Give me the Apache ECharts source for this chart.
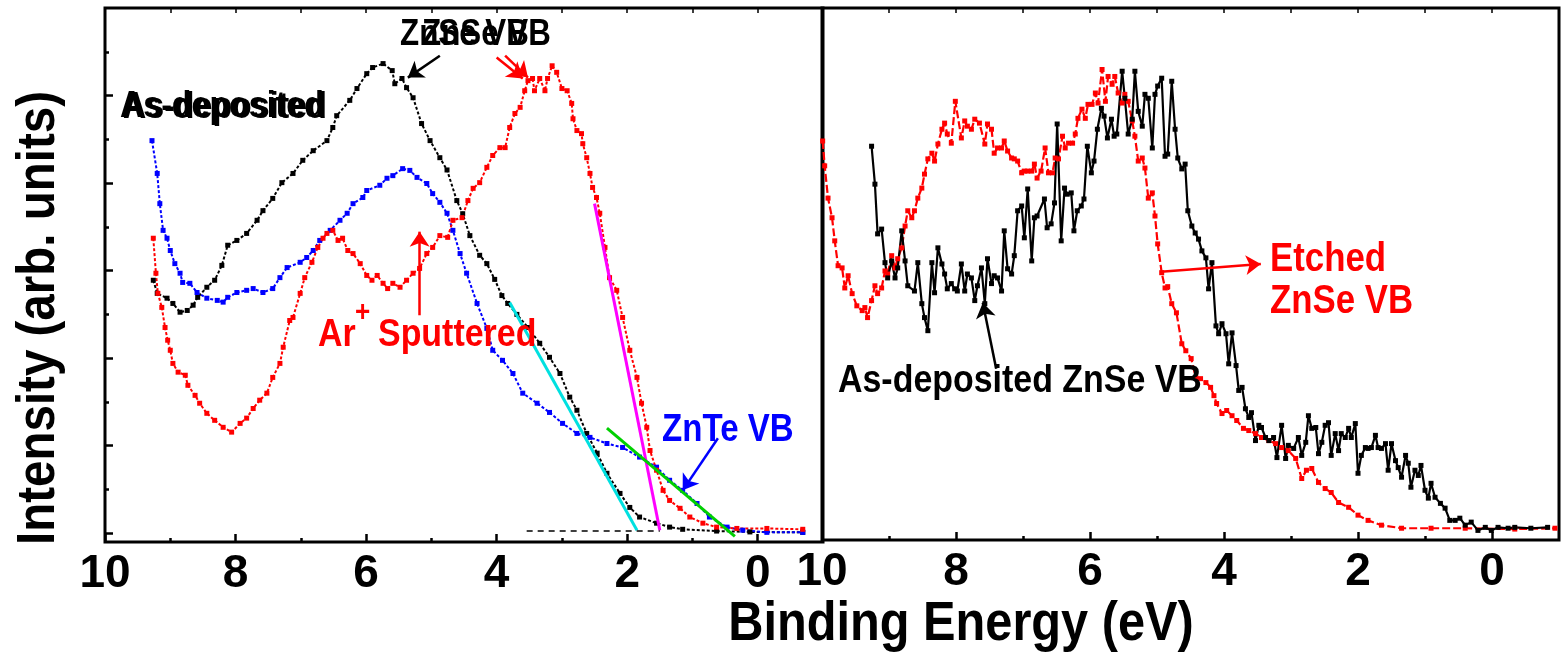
<!DOCTYPE html>
<html><head><meta charset="utf-8">
<script src="https://cdn.jsdelivr.net/npm/echarts@6/dist/echarts.min.js"></script>
<style>html,body{margin:0;padding:0;background:#fff}#c{width:1567px;height:656px}</style>
</head><body><div id="c"></div>
<script>
// ---- tick values ----
const xTicksMajor = [0, 2, 4, 6, 8, 10];
const xTicksMinor = [1, 3, 5, 7, 9];
const xTicksTop = [0, 1, 2, 3, 4, 5, 6, 7, 8, 9, 10];
const yTicksMajor = [0, 2, 4, 6, 8, 10];
const yTicksMinor = [1, 3, 5, 7, 9, 11];

// ---- left panel: [binding energy (eV), intensity (arb.)] ----
const leftAsDeposited = [[9.26,5.78],[9.20,5.48],[9.05,5.37],[8.96,5.25],[8.85,5.05],[8.74,5.09],[8.65,5.21],[8.58,5.39],[8.44,5.62],[8.32,5.78],[8.21,6.12],[8.12,6.58],[7.98,6.69],[7.83,6.85],[7.67,7.15],[7.58,7.37],[7.43,7.65],[7.29,8.01],[7.12,8.22],[6.97,8.52],[6.81,8.74],[6.60,8.97],[6.51,9.27],[6.45,9.54],[6.25,9.89],[6.14,10.16],[5.99,10.50],[5.90,10.64],[5.74,10.73],[5.60,10.57],[5.56,10.27],[5.45,10.39],[5.38,10.18],[5.28,9.95],[5.15,9.36],[5.02,8.97],[4.87,8.58],[4.76,8.30],[4.61,7.60],[4.52,7.30],[4.41,6.80],[4.26,6.35],[4.15,6.16],[4.03,5.80],[3.92,5.43],[3.83,5.25],[3.69,5.00],[3.52,4.70],[3.34,4.34],[3.19,4.02],[3.03,3.65],[2.88,3.11],[2.77,2.81],[2.62,2.28],[2.46,1.83],[2.31,1.37],[2.11,0.91],[1.96,0.59],[1.81,0.37],[1.55,0.23],[1.35,0.14],[1.15,0.09],[0.63,0.05],[0.12,0.03],[-0.69,0.02]];
const leftZnTe = [[9.28,8.97],[9.20,8.22],[9.16,7.53],[9.11,6.92],[9.05,6.74],[9.00,6.46],[8.93,6.16],[8.85,5.94],[8.81,5.73],[8.70,5.71],[8.59,5.50],[8.44,5.37],[8.28,5.32],[8.19,5.28],[8.12,5.39],[7.98,5.50],[7.83,5.55],[7.73,5.59],[7.58,5.50],[7.43,5.59],[7.32,5.84],[7.21,6.07],[7.01,6.19],[6.91,6.30],[6.81,6.46],[6.71,6.69],[6.55,6.92],[6.40,7.15],[6.29,7.31],[6.20,7.53],[6.05,7.67],[5.99,7.83],[5.79,7.95],[5.68,8.11],[5.59,8.17],[5.44,8.33],[5.33,8.29],[5.22,8.13],[5.07,7.99],[4.98,7.76],[4.87,7.56],[4.76,7.31],[4.67,6.92],[4.56,6.39],[4.46,5.94],[4.30,5.25],[4.15,4.68],[4.06,4.18],[3.91,3.95],[3.75,3.65],[3.60,3.20],[3.38,2.97],[3.19,2.76],[2.99,2.51],[2.77,2.28],[2.57,2.19],[2.31,2.05],[2.07,1.96],[1.81,1.74],[1.55,1.51],[1.35,1.21],[1.15,0.98],[0.93,0.68],[0.74,0.37],[0.47,0.14],[0.23,0.07],[-0.14,0.02],[-0.69,0.02]];
const leftSputtered = [[9.26,6.74],[9.22,5.94],[9.19,5.48],[9.13,5.16],[9.08,4.70],[9.04,4.41],[9.00,4.18],[8.96,3.88],[8.88,3.68],[8.77,3.61],[8.73,3.38],[8.62,3.15],[8.55,2.97],[8.44,2.74],[8.32,2.58],[8.19,2.42],[8.06,2.31],[7.93,2.51],[7.83,2.63],[7.73,2.85],[7.63,3.04],[7.52,3.20],[7.43,3.56],[7.32,3.88],[7.27,4.25],[7.17,4.86],[7.12,4.93],[7.01,5.48],[6.94,5.84],[6.83,6.19],[6.74,6.53],[6.66,6.74],[6.60,6.85],[6.51,6.92],[6.43,6.69],[6.36,6.74],[6.28,6.46],[6.20,6.39],[6.09,6.16],[5.99,5.89],[5.91,5.78],[5.83,5.89],[5.74,5.71],[5.67,5.59],[5.59,5.71],[5.48,5.62],[5.38,5.78],[5.28,5.94],[5.18,6.05],[5.07,6.39],[4.98,6.53],[4.87,6.80],[4.75,6.76],[4.67,7.15],[4.53,7.21],[4.44,7.60],[4.36,7.88],[4.26,8.01],[4.15,8.36],[4.06,8.63],[3.95,8.81],[3.87,8.81],[3.80,9.27],[3.72,9.59],[3.64,9.73],[3.57,10.11],[3.52,10.34],[3.45,10.39],[3.42,10.11],[3.34,10.39],[3.26,10.11],[3.22,10.39],[3.15,10.68],[3.08,10.53],[3.00,10.16],[2.92,10.11],[2.85,9.82],[2.83,9.47],[2.77,9.20],[2.70,9.13],[2.68,8.90],[2.62,8.58],[2.57,8.22],[2.53,7.90],[2.47,7.67],[2.42,7.31],[2.34,6.53],[2.27,5.84],[2.16,5.55],[2.07,4.93],[1.96,4.18],[1.85,3.56],[1.78,2.97],[1.70,2.42],[1.65,1.89],[1.55,1.44],[1.45,0.98],[1.35,0.75],[1.19,0.57],[1.04,0.37],[0.84,0.23],[0.63,0.14],[0.32,0.11],[-0.14,0.11],[-0.69,0.09]];
// linear extrapolations of the leading edges
const fitCyan = [[3.80,5.27],[1.85,0.07]];
const fitMagenta = [[2.50,7.53],[1.50,0.07]];
const fitGreen = [[2.31,2.40],[0.35,-0.07]];
const baseline = [[3.54,0.05],[1.50,0.05]];

// ---- right panel ----
const rightEtched = [[9.99,8.95],[9.96,8.38],[9.91,7.64],[9.85,7.19],[9.81,6.66],[9.76,6.09],[9.70,6.04],[9.66,5.58],[9.61,5.86],[9.55,5.45],[9.48,5.17],[9.40,5.06],[9.36,5.13],[9.32,4.90],[9.26,5.29],[9.21,5.63],[9.17,5.45],[9.11,5.58],[9.06,5.97],[9.02,5.90],[8.96,6.32],[8.91,6.04],[8.87,6.25],[8.81,6.50],[8.76,7.00],[8.72,7.35],[8.66,7.19],[8.62,7.35],[8.57,7.64],[8.51,7.87],[8.47,8.19],[8.42,8.54],[8.36,8.67],[8.32,8.49],[8.27,8.88],[8.21,9.22],[8.17,9.36],[8.13,9.11],[8.07,8.90],[8.01,9.86],[7.92,9.02],[7.87,9.41],[7.83,9.29],[7.77,9.22],[7.72,9.45],[7.65,9.36],[7.57,8.88],[7.53,9.34],[7.47,9.22],[7.43,8.67],[7.38,8.79],[7.32,8.79],[7.28,8.95],[7.23,8.72],[7.17,8.56],[7.13,8.54],[7.08,8.49],[7.02,8.22],[6.98,8.26],[6.93,8.26],[6.87,8.26],[6.83,8.42],[6.79,8.10],[6.73,8.26],[6.67,8.79],[6.62,8.22],[6.56,8.22],[6.52,8.56],[6.47,8.54],[6.41,9.06],[6.37,8.79],[6.32,8.90],[6.26,8.90],[6.22,9.11],[6.18,9.47],[6.12,9.68],[6.07,9.47],[6.03,9.79],[5.97,9.79],[5.92,10.05],[5.88,9.82],[5.82,10.59],[5.77,9.86],[5.73,10.43],[5.67,10.25],[5.63,10.43],[5.58,10.05],[5.52,9.82],[5.48,10.02],[5.43,9.86],[5.37,9.41],[5.33,9.06],[5.28,8.49],[5.22,8.56],[5.18,8.33],[5.13,7.64],[5.07,7.76],[5.03,7.23],[4.99,6.59],[4.93,5.93],[4.88,5.58],[4.84,5.61],[4.78,5.22],[4.71,5.01],[4.63,4.30],[4.57,4.14],[4.49,3.96],[4.42,3.52],[4.35,3.50],[4.27,3.41],[4.20,3.30],[4.15,3.11],[4.11,2.93],[4.03,2.70],[3.96,2.77],[3.88,2.65],[3.81,2.54],[3.71,2.36],[3.63,2.31],[3.53,2.24],[3.44,2.15],[3.33,2.08],[3.23,2.01],[3.14,1.92],[3.04,1.85],[2.93,1.67],[2.84,1.21],[2.77,1.40],[2.69,1.44],[2.59,1.12],[2.49,0.98],[2.40,0.89],[2.29,0.66],[2.14,0.55],[2.00,0.37],[1.85,0.25],[1.65,0.14],[1.35,0.07],[0.91,0.07],[0.40,0.07],[-0.34,0.05],[-0.94,0.07]];
const rightAsDeposited = [[9.26,8.83],[9.21,7.96],[9.17,6.82],[9.11,6.93],[9.06,6.16],[9.02,5.81],[8.96,6.20],[8.91,5.81],[8.87,6.04],[8.81,6.89],[8.76,6.20],[8.72,5.63],[8.62,5.51],[8.57,6.16],[8.51,5.22],[8.47,4.90],[8.42,4.60],[8.36,6.16],[8.32,5.47],[8.27,6.50],[8.21,6.13],[8.17,5.90],[8.13,5.56],[8.07,5.68],[8.02,5.56],[7.98,5.51],[7.92,6.13],[7.87,5.51],[7.83,5.90],[7.77,5.81],[7.72,5.29],[7.68,5.63],[7.62,6.04],[7.57,5.22],[7.53,6.25],[7.47,5.68],[7.43,5.86],[7.38,5.81],[7.32,5.51],[7.28,6.89],[7.23,6.02],[7.17,5.90],[7.13,6.32],[7.08,7.35],[7.02,7.46],[6.98,6.73],[6.93,7.85],[6.87,6.20],[6.83,7.19],[6.79,7.23],[6.68,7.62],[6.64,6.96],[6.58,7.05],[6.53,7.53],[6.49,9.34],[6.43,6.66],[6.38,7.87],[6.34,7.73],[6.28,7.76],[6.24,6.89],[6.19,7.35],[6.13,7.46],[6.09,7.62],[6.04,8.83],[5.98,8.22],[5.94,8.49],[5.89,9.22],[5.83,9.70],[5.79,9.52],[5.74,9.02],[5.68,9.45],[5.64,9.06],[5.60,9.11],[5.52,10.55],[5.48,9.93],[5.43,9.11],[5.37,9.45],[5.33,10.55],[5.28,9.63],[5.22,9.29],[5.18,10.02],[5.13,9.93],[5.07,8.79],[5.03,10.02],[4.99,10.21],[4.93,10.39],[4.88,8.60],[4.84,8.65],[4.78,10.32],[4.73,9.22],[4.69,8.56],[4.63,8.31],[4.58,8.42],[4.54,7.35],[4.48,7.00],[4.43,6.84],[4.38,6.70],[4.33,6.43],[4.27,6.27],[4.23,5.56],[4.18,6.16],[4.12,4.71],[4.08,4.53],[4.03,4.76],[3.97,4.53],[3.93,3.84],[3.88,4.55],[3.82,3.80],[3.78,3.23],[3.73,3.30],[3.68,2.81],[3.63,2.61],[3.59,2.72],[3.53,2.08],[3.48,2.43],[3.44,2.38],[3.38,2.15],[3.33,2.08],[3.26,2.15],[3.21,1.69],[3.14,2.43],[3.08,1.67],[3.04,1.97],[2.96,1.90],[2.89,2.15],[2.84,1.74],[2.78,2.04],[2.74,2.65],[2.69,2.36],[2.63,2.38],[2.59,1.78],[2.54,2.04],[2.49,2.43],[2.44,2.49],[2.40,1.74],[2.34,2.24],[2.29,1.85],[2.25,2.24],[2.19,2.15],[2.14,2.36],[2.10,2.15],[2.04,2.47],[2.00,1.33],[1.95,1.74],[1.89,1.92],[1.85,1.90],[1.80,1.92],[1.74,2.20],[1.70,1.92],[1.65,1.90],[1.59,2.01],[1.55,1.40],[1.50,2.01],[1.44,1.62],[1.40,1.46],[1.35,1.24],[1.29,1.74],[1.25,1.56],[1.21,1.01],[1.15,1.40],[1.10,1.28],[1.06,1.51],[1.00,0.94],[0.95,0.76],[0.91,1.10],[0.85,0.78],[0.77,0.64],[0.70,0.53],[0.63,0.25],[0.55,0.25],[0.48,0.30],[0.40,0.14],[0.31,0.21],[0.21,0.02],[0.10,0.09],[0.01,0.02],[-0.09,0.09],[-0.24,0.07],[-0.34,0.09],[-0.58,0.07],[-0.83,0.09]];

// ---- annotation arrows, in data coordinates [from, to] ----
const leftArrows = [
  {from:[4.87,10.91], to:[5.36,10.41], color:'#000'},
  {from:[4.00,10.87], to:[3.60,10.39], color:'#ff0000'},
  {from:[3.87,10.91], to:[3.52,10.41], color:'#ff0000'},
  {from:[5.18,4.98], to:[5.18,6.89], color:'#ff0000'},
  {from:[0.61,2.17], to:[1.15,0.98], color:'#0000ff'}
];
const rightArrows = [
  {from:[4.94,5.95], to:[3.45,6.13], color:'#ff0000'},
  {from:[7.40,3.73], to:[7.60,5.24], color:'#000'}
];

const FONT = '"Liberation Sans",Arial,sans-serif';
const NARROW = 0.87;
const chart = echarts.init(document.getElementById('c'), null, {renderer:'canvas'});

function xAxes(gridIndex){
  const base = {gridIndex, type:'value', min:-1, max:10, inverse:true,
    axisLine:{show:false, onZero:false}, splitLine:{show:false}};
  return [
    Object.assign({}, base, {position:'bottom',
      axisTick:{show:true, inside:true, length:8, customValues:xTicksMajor, lineStyle:{color:'#000', width:2.5}},
      axisLabel:{show:true, customValues:xTicksMajor, margin:9, color:'#000',
        fontFamily:FONT, fontWeight:'bold', fontSize:46}}),
    Object.assign({}, base, {position:'bottom',
      axisTick:{show:true, inside:true, length:4, customValues:xTicksMinor, lineStyle:{color:'#000', width:2.5}},
      axisLabel:{show:false}}),
    Object.assign({}, base, {position:'top',
      axisTick:{show:true, inside:true, length:5, customValues:xTicksTop, lineStyle:{color:'#000', width:1.5}},
      axisLabel:{show:false}})
  ];
}
function yBase(gridIndex){
  return {gridIndex, type:'value', position:'left', min:-0.2, max:12,
    axisLine:{show:false, onZero:false}, splitLine:{show:false}, axisLabel:{show:false}};
}
function arrowLines(list){
  return list.map(a => [
    {coord:a.from, lineStyle:{color:a.color, width:2.5, type:'solid'}, itemStyle:{color:a.color}},
    {coord:a.to, lineStyle:{color:a.color, width:2.5, type:'solid'}, itemStyle:{color:a.color}}
  ]);
}
function markers(name, data, xi, yi, color, lineType, lw, size){
  return {name, type:'line', xAxisIndex:xi, yAxisIndex:yi, data,
    symbol:'rect', symbolSize:size, showSymbol:true, showAllSymbol:true,
    itemStyle:{color}, lineStyle:{color, width:lw, type:lineType}, silent:true, z:3};
}
function fitLine(data, color, width, type){
  return {type:'line', xAxisIndex:0, yAxisIndex:0, data, symbol:'none',
    lineStyle:{color, width, type}, silent:true, z:4};
}
function arrowMark(list){
  return {silent:true, symbol:['none','arrow'], symbolSize:15, label:{show:false}, animation:false, data:arrowLines(list)};
}

const s0 = markers('As-deposited', leftAsDeposited, 0, 0, '#000', [3,2], 2, 5);
s0.markLine = arrowMark(leftArrows);
const sR = markers('As-deposited ZnSe VB', rightAsDeposited, 3, 2, '#000', 'solid', 2.2, 5);
sR.markLine = arrowMark(rightArrows);

function txt(text, x, y, size, color){
  return {type:'text', x, y, scaleX:NARROW, silent:true, z:10,
    style:{text, fill:color, font:'bold '+size+'px '+FONT, verticalAlign:'middle', textAlign:'left'}};
}

const option = {
  animation:false,
  backgroundColor:'#fff',
  grid:[
    {left:105, top:8, width:718, height:534, show:true, borderColor:'#000', borderWidth:3, backgroundColor:'transparent'},
    {left:822, top:8, width:737, height:532, show:true, borderColor:'#000', borderWidth:3, backgroundColor:'transparent'}
  ],
  xAxis:[...xAxes(0), ...xAxes(1)],
  yAxis:[
    Object.assign(yBase(0), {axisTick:{show:true, inside:true, length:8, customValues:yTicksMajor, lineStyle:{color:'#000', width:2.5}}}),
    Object.assign(yBase(0), {axisTick:{show:true, inside:true, length:4, customValues:yTicksMinor, lineStyle:{color:'#000', width:2.5}}}),
    Object.assign(yBase(1), {axisTick:{show:false}})
  ],
  series:[
    s0,
    markers('ZnTe VB', leftZnTe, 0, 0, '#0000ff', [3,2], 2, 5),
    markers('Ar+ Sputtered', leftSputtered, 0, 0, '#ff0000', [3,2], 2, 5),
    fitLine(fitCyan, '#00e0e0', 3, 'solid'),
    fitLine(fitMagenta, '#ff00ff', 3, 'solid'),
    fitLine(fitGreen, '#00d000', 3, 'solid'),
    fitLine(baseline, '#000', 1.5, [6,5]),
    markers('Etched ZnSe VB', rightEtched, 3, 2, '#ff0000', [8,3], 2.2, 5),
    sR
  ],
  graphic:[
    txt('As-deposited', 120, 107, 37, '#000'),
    txt('As-deposited', 123, 108, 37, '#000'),
    txt('ZnSe VB', 400, 35, 36, '#000'),
    txt('ZnSe VB', 422, 35, 36, '#000'),
    txt('Ar', 318, 335, 39, '#ff0000'),
    txt('+', 355, 313, 30, '#ff0000'),
    txt('Sputtered', 378, 335, 39, '#ff0000'),
    txt('ZnTe VB', 662, 431, 38, '#0000ff'),
    txt('Etched', 1270, 260, 40, '#ff0000'),
    txt('ZnSe VB', 1270, 302, 40, '#ff0000'),
    txt('As-deposited ZnSe VB', 838, 381, 39, '#000'),
    {type:'text', x:961, y:625, scaleX:NARROW, silent:true,
      style:{text:'Binding Energy (eV)', fill:'#000', font:'bold 56px '+FONT, textAlign:'center', verticalAlign:'middle'}},
    {type:'text', x:39, y:318, rotation:Math.PI/2, scaleX:0.88, silent:true,
      style:{text:'Intensity (arb. units)', fill:'#000', font:'bold 54px '+FONT, textAlign:'center', verticalAlign:'middle'}}
  ]
};
chart.setOption(option);
</script>
</body></html>
